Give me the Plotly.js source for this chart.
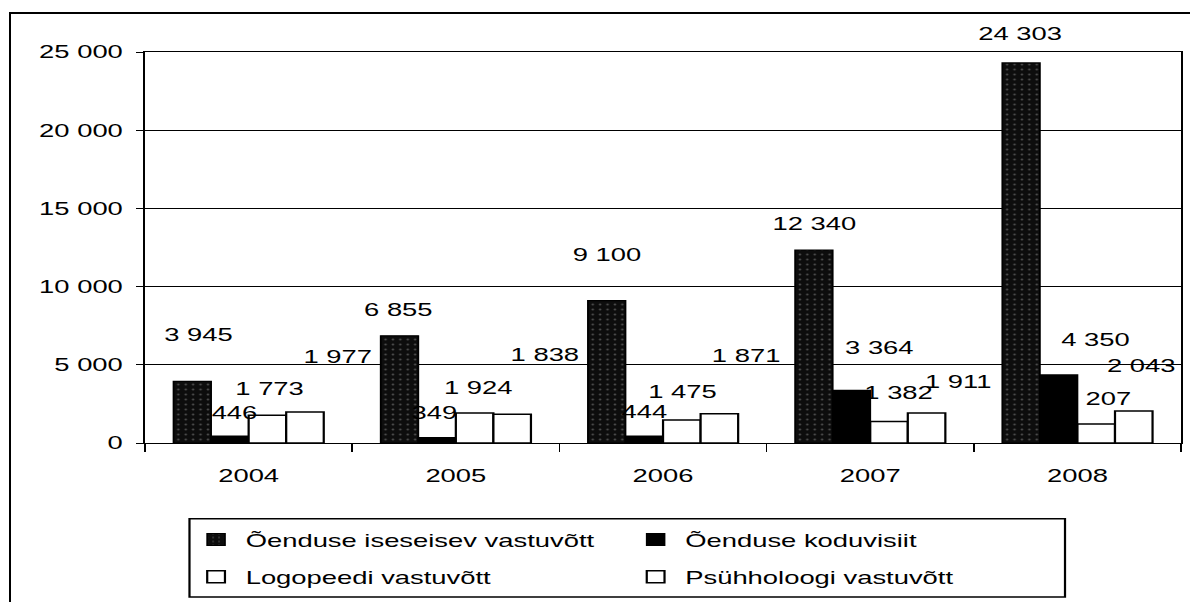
<!DOCTYPE html>
<html>
<head>
<meta charset="utf-8">
<script src="https://cdn.plot.ly/plotly-3.0.1.min.js"></script>
<style>
  html, body { margin: 0; padding: 0; background: #fff; }
  #frame { position: absolute; left: 9px; top: 12px; width: 1200px; height: 620px;
           border-left: 2px solid #000; border-top: 2px solid #000; pointer-events: none; z-index: 5; }
  #chart { position: absolute; left: 0; top: 0; width: 804px; height: 602px;
           transform: scaleX(1.48); transform-origin: 0 0; }
</style>
</head>
<body>
<div id="chart"></div>
<div id="frame"></div>
<script>
// ---- data ----
const years = ['2004', '2005', '2006', '2007', '2008'];
const seriesNames = ['Õenduse iseseisev vastuvõtt', 'Õenduse koduvisiit', 'Logopeedi vastuvõtt', 'Psühholoogi vastuvõtt'];
const iseseisev = [3945, 6855, 9100, 12340, 24303];
const koduvisiit = [446, 349, 444, 3364, 4350];
const logopeed = [1773, 1924, 1475, 1382, 1207];
const psuhholoog = [1977, 1838, 1871, 1911, 2043];
const yTicks = [0, 5000, 10000, 15000, 20000, 25000];

// ---- label placement (reference-pixel offsets from bar top centre) ----
const labelDx = [[6, -1, 0, 1, 0], [4, -2, 1, 28, 37], [2, 3, 0, 10, 0], [32, 32, 27, 32, 7]];
const labelDy = [[-47, -26, -46, -27, -29], [-24, -25, -25, -43, -35], [-27, -25, -28, -29, -26], [-56, -60, -58, -32, -46]];

const SX = 1.48;
const FONT = 'Liberation Sans, Arial, sans-serif';
const FS = 18.5;
const bargap = 0.275;
const allSeries = [iseseisev, koduvisiit, logopeed, psuhholoog];

function fmt(v) { return String(v).replace(/\B(?=(\d{3})+(?!\d))/g, ' '); }

const styles = [
  { color: '#111', line: { color: '#000', width: 1.2 },
    pattern: { shape: '.', bgcolor: '#0d0d0d', fgcolor: '#4a4a4a', size: 5, solidity: 0.1 } },
  { color: '#000', line: { color: '#000', width: 1.2 } },
  { color: '#fff', line: { color: '#000', width: 1.5 } },
  { color: '#fff', line: { color: '#000', width: 1.5 } }
];

const traces = allSeries.map((vals, k) => ({
  type: 'bar', x: years, y: vals, name: seriesNames[k],
  marker: styles[k], legend: k < 2 ? 'legend' : 'legend2', hoverinfo: 'skip'
}));

const w = (1 - bargap) / 4;
const annotations = [];
allSeries.forEach((vals, k) => {
  vals.forEach((v, i) => {
    annotations.push({
      x: i + (k - 1.5) * w, y: v, xref: 'x', yref: 'y',
      text: fmt(v), showarrow: false, xanchor: 'center', yanchor: 'middle',
      xshift: labelDx[k][i] / SX, yshift: -labelDy[k][i],
      font: { family: FONT, size: FS, color: '#000' }
    });
  });
});

const legendCommon = {
  orientation: 'h', xanchor: 'left', yanchor: 'middle',
  font: { family: FONT, size: FS, color: '#000' },
  bgcolor: 'rgba(0,0,0,0)', borderwidth: 0,
  entrywidth: 252, entrywidthmode: 'pixels', itemclick: false
};

const layout = {
  width: 804, height: 602,
  margin: { l: 98, r: 6, t: 52, b: 159, pad: 0 },
  paper_bgcolor: '#fff', plot_bgcolor: '#fff',
  separators: ', ',
  font: { family: FONT, size: FS, color: '#000' },
  barmode: 'group', bargap: bargap, bargroupgap: 0,
  showlegend: true,
  legend: Object.assign({}, legendCommon, { x: 0.04, y: -0.248 }),
  legend2: Object.assign({}, legendCommon, { x: 0.04, y: -0.343 }),
  xaxis: {
    type: 'category', showline: true, linecolor: '#000', linewidth: 1.3, mirror: true,
    ticks: 'outside', tickson: 'boundaries', ticklen: 8, tickcolor: '#000', tickwidth: 1,
    showgrid: false, ticklabelstandoff: 16,
    tickfont: { family: FONT, size: FS, color: '#000' }
  },
  yaxis: {
    range: [0, 25000], tickvals: yTicks, tickformat: ',d', separatethousands: true,
    showline: true, linecolor: '#000', linewidth: 1.3, mirror: true,
    ticks: 'outside', ticklen: 5, tickcolor: '#000', tickwidth: 1,
    showgrid: true, gridcolor: '#000', gridwidth: 1, zeroline: false,
    ticklabelstandoff: 5,
    tickfont: { family: FONT, size: FS, color: '#000' }
  },
  annotations: annotations,
  shapes: [{
    type: 'rect', xref: 'paper', yref: 'paper',
    x0: 0.0429, x1: 0.888, y0: -0.194, y1: -0.394,
    line: { color: '#000', width: 1.5 }, fillcolor: 'rgba(0,0,0,0)'
  }]
};

Plotly.newPlot('chart', traces, layout, { staticPlot: true, displayModeBar: false });
</script>
</body>
</html>
